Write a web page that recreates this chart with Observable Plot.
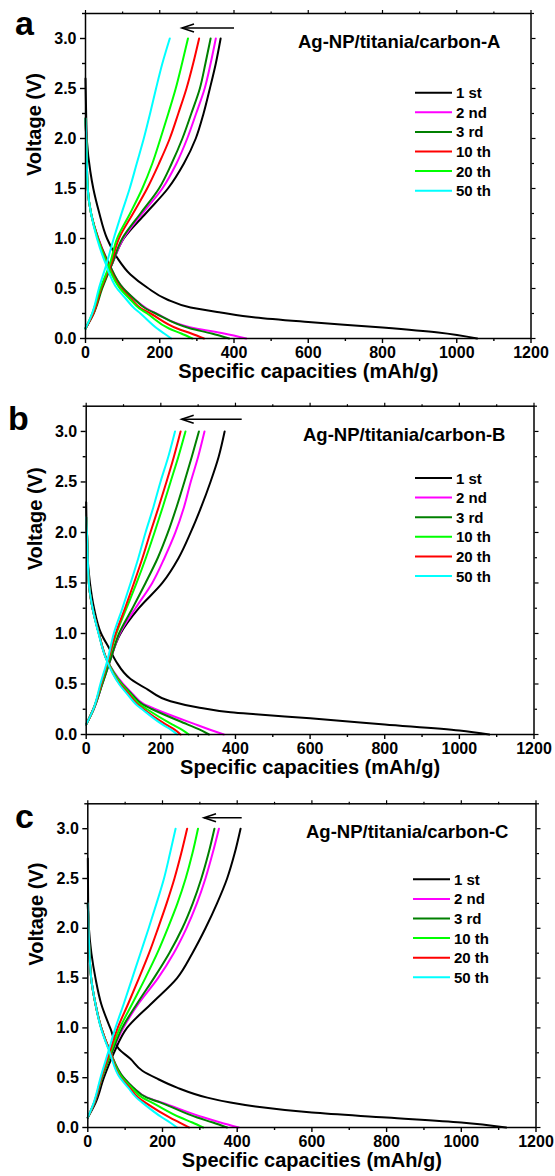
<!DOCTYPE html>
<html><head><meta charset="utf-8">
<script src="https://cdn.jsdelivr.net/npm/d3@7"></script>
<script src="https://cdn.jsdelivr.net/npm/@observablehq/plot@0.6"></script>
<style>
body{margin:0;background:#fff;}
#wrap{position:relative;width:555px;height:1176px;overflow:hidden;background:#fff;}
#wrap svg{position:absolute;left:0;}
</style></head><body><div id="wrap"></div>
<script>
// ---------- categories / labels ----------
const cycles = ["1 st","2 nd","3 rd","10 th","20 th","50 th"];
const colorsA  = ["#000000","#ff00ff","#008000","#ff0000","#00ff00","#00ffff"];
const colorsBC = ["#000000","#ff00ff","#008000","#00ff00","#ff0000","#00ffff"];
const titles = ["Ag-NP/titania/carbon-A","Ag-NP/titania/carbon-B","Ag-NP/titania/carbon-C"];
const letters = ["a","b","c"];
const xTicks = [0,200,400,600,800,1000,1200];
const xMinor = [100,300,500,700,900,1100];
const yTicks = [0,0.5,1.0,1.5,2.0,2.5,3.0];
const yMinor = [0.25,0.75,1.25,1.75,2.25,2.75,3.25];
const xLabel = "Specific capacities (mAh/g)";
const yLabel = "Voltage (V)";

// ---------- panel a : [capacity mAh/g, voltage V] ----------
const A_discharge = [
  [[0,2.6],[2,2.2],[4,1.97],[13,1.67],[21,1.5],[36,1.27],[58,1.0],[85,0.81],[121,0.64],[166,0.51],[220,0.39],[283,0.31],[364,0.26],[458,0.21],[600,0.165],[800,0.11],[950,0.06],[1055,0.0]],
  [[0,2.2],[2,2.0],[6,1.5],[15,1.25],[35,1.0],[63,0.75],[102,0.5],[130,0.4],[165,0.3],[191,0.25],[297,0.1],[373,0.05],[433,0.0]],
  [[0,2.2],[2,2.0],[6,1.5],[15,1.25],[34,1.0],[63,0.75],[102,0.5],[130,0.4],[162,0.3],[189,0.25],[283,0.1],[340,0.05],[387,0.0]],
  [[0,2.2],[2,2.0],[6,1.5],[15,1.25],[34,1.0],[60,0.75],[96,0.5],[122,0.4],[150,0.3],[175,0.25],[247,0.1],[285,0.05],[319,0.0]],
  [[0,2.2],[2,2.0],[6,1.5],[15,1.25],[33,1.0],[58,0.75],[93,0.5],[118,0.4],[145,0.3],[166,0.25],[225,0.1],[258,0.05],[288,0.0]],
  [[0,2.2],[2,2.0],[6,1.5],[15,1.25],[31,1.0],[54,0.75],[85,0.5],[108,0.4],[132,0.3],[148,0.25],[193,0.1],[212,0.05],[231,0.0]]
];
const A_charge = [
  [[0,0.1],[21,0.25],[42,0.5],[72,0.75],[103,1.0],[162,1.25],[222,1.5],[265,1.75],[297,2.0],[318,2.25],[335,2.5],[351,2.75],[364,3.0]],
  [[0,0.1],[21,0.25],[43,0.5],[72,0.75],[102,1.0],[153,1.25],[207,1.5],[245,1.75],[274,2.0],[298,2.25],[321,2.5],[337,2.75],[351,3.0]],
  [[0,0.1],[22,0.25],[45,0.5],[72,0.75],[99,1.0],[148,1.25],[198,1.5],[232,1.75],[261,2.0],[285,2.25],[308,2.5],[323,2.75],[337,3.0]],
  [[0,0.1],[21,0.25],[42,0.5],[69,0.75],[90,1.0],[128,1.25],[166,1.5],[198,1.75],[227,2.0],[250,2.25],[272,2.5],[290,2.75],[306,3.0]],
  [[0,0.1],[18,0.25],[40,0.5],[66,0.75],[85,1.0],[120,1.25],[153,1.5],[180,1.75],[202,2.0],[223,2.25],[243,2.5],[260,2.75],[276,3.0]],
  [[0,0.1],[18,0.25],[36,0.5],[57,0.75],[76,1.0],[97,1.25],[119,1.5],[138,1.75],[157,2.0],[174,2.25],[190,2.5],[207,2.75],[227,3.0]]
];

// ---------- panel b ----------
const B_discharge = [
  [[0,2.3],[3,1.8],[10,1.5],[21,1.25],[40,1.0],[62,0.85],[79,0.73],[119,0.55],[163,0.45],[226,0.33],[297,0.27],[387,0.22],[454,0.2],[600,0.16],[800,0.1],[1000,0.04],[1080,0.0]],
  [[0,2.15],[2,2.0],[7,1.5],[17,1.25],[34,1.0],[54,0.75],[99,0.5],[125,0.4],[155,0.3],[186,0.25],[293,0.1],[330,0.05],[369,0.0]],
  [[0,2.15],[2,2.0],[7,1.5],[17,1.25],[34,1.0],[54,0.75],[96,0.5],[122,0.4],[150,0.3],[177,0.25],[271,0.1],[303,0.05],[329,0.0]],
  [[0,2.15],[2,2.0],[7,1.5],[17,1.25],[34,1.0],[54,0.75],[94,0.5],[118,0.4],[143,0.3],[163,0.25],[230,0.1],[255,0.05],[275,0.0]],
  [[0,2.15],[2,2.0],[7,1.5],[17,1.25],[34,1.0],[54,0.75],[90,0.5],[114,0.4],[137,0.3],[154,0.25],[213,0.1],[236,0.05],[253,0.0]],
  [[0,2.15],[2,2.0],[7,1.5],[17,1.25],[33,1.0],[53,0.75],[88,0.5],[110,0.4],[133,0.3],[150,0.25],[204,0.1],[226,0.05],[244,0.0]]
];
const B_charge = [
  [[0,0.1],[19,0.25],[43,0.5],[65,0.75],[92,1.0],[141,1.25],[204,1.5],[248,1.75],[280,2.0],[308,2.25],[333,2.5],[355,2.75],[371,3.0]],
  [[0,0.1],[20,0.25],[43,0.5],[66,0.75],[90,1.0],[132,1.25],[177,1.5],[210,1.75],[239,2.0],[262,2.25],[280,2.5],[300,2.75],[317,3.0]],
  [[0,0.1],[20,0.25],[43,0.5],[66,0.75],[88,1.0],[124,1.25],[159,1.5],[192,1.75],[219,2.0],[242,2.25],[263,2.5],[283,2.75],[302,3.0]],
  [[0,0.1],[19,0.25],[41,0.5],[61,0.75],[81,1.0],[108,1.25],[135,1.5],[160,1.75],[183,2.0],[205,2.25],[226,2.5],[247,2.75],[266,3.0]],
  [[0,0.1],[19,0.25],[40,0.5],[60,0.75],[79,1.0],[104,1.25],[128,1.5],[151,1.75],[172,2.0],[194,2.25],[215,2.5],[235,2.75],[253,3.0]],
  [[0,0.1],[19,0.25],[38,0.5],[58,0.75],[74,1.0],[97,1.25],[119,1.5],[140,1.75],[159,2.0],[180,2.25],[199,2.5],[220,2.75],[238,3.0]]
];

// ---------- panel c ----------
const C_discharge = [
  [[0,2.7],[1,2.24],[3,2.0],[21,1.49],[36,1.24],[61,0.99],[83,0.79],[114,0.69],[146,0.57],[186,0.49],[239,0.4],[320,0.3],[382,0.25],[449,0.21],[600,0.15],[800,0.1],[1000,0.05],[1120,0.0]],
  [[0,2.25],[2,2.0],[9,1.5],[20,1.25],[36,1.0],[61,0.75],[96,0.5],[122,0.4],[160,0.3],[199,0.25],[311,0.1],[355,0.05],[404,0.0]],
  [[0,2.25],[2,2.0],[9,1.5],[20,1.25],[36,1.0],[61,0.75],[96,0.5],[122,0.4],[158,0.3],[195,0.25],[293,0.1],[335,0.05],[373,0.0]],
  [[0,2.25],[2,2.0],[9,1.5],[20,1.25],[36,1.0],[61,0.75],[92,0.5],[117,0.4],[146,0.3],[172,0.25],[248,0.1],[280,0.05],[309,0.0]],
  [[0,2.25],[2,2.0],[9,1.5],[20,1.25],[36,1.0],[61,0.75],[88,0.5],[112,0.4],[135,0.3],[154,0.25],[220,0.1],[246,0.05],[271,0.0]],
  [[0,2.25],[2,2.0],[9,1.5],[20,1.25],[35,1.0],[59,0.75],[86,0.5],[108,0.4],[130,0.3],[146,0.25],[199,0.1],[220,0.05],[239,0.0]]
];
const C_charge = [
  [[0,0.1],[21,0.25],[43,0.5],[70,0.75],[105,1.0],[172,1.25],[239,1.5],[280,1.75],[315,2.0],[346,2.25],[373,2.5],[393,2.75],[409,3.0]],
  [[0,0.1],[18,0.25],[38,0.5],[64,0.75],[95,1.0],[137,1.25],[188,1.5],[230,1.75],[264,2.0],[292,2.25],[315,2.5],[334,2.75],[351,3.0]],
  [[0,0.1],[18,0.25],[38,0.5],[64,0.75],[92,1.0],[133,1.25],[177,1.5],[218,1.75],[253,2.0],[281,2.25],[304,2.5],[323,2.75],[339,3.0]],
  [[0,0.1],[17,0.25],[37,0.5],[61,0.75],[86,1.0],[120,1.25],[154,1.5],[186,1.75],[214,2.0],[240,2.25],[262,2.5],[280,2.75],[295,3.0]],
  [[0,0.1],[17,0.25],[36,0.5],[58,0.75],[80,1.0],[109,1.25],[137,1.5],[164,1.75],[188,2.0],[211,2.25],[232,2.5],[250,2.75],[266,3.0]],
  [[0,0.1],[16,0.25],[34,0.5],[54,0.75],[74,1.0],[97,1.25],[119,1.5],[141,1.75],[163,2.0],[184,2.25],[204,2.5],[220,2.75],[235,3.0]]
];

// ---------- layout (pixels, not data) ----------
const layouts = [
  {top:0,   h:392, mt:13,   mb:54, ml:85,   mr:24.5, letter:[15,35],  title:[298,48],  legend:{y:92.7,  x1:415, x2:452, tx:456}, arrow:{y:28,    x1:234,   x2:182}},
  {top:392, h:392, mt:13.7, mb:50, ml:85.7, mr:21.5, letter:[8,430],  title:[303,441], legend:{y:478,   x1:415, x2:452, tx:456}, arrow:{y:419.3, x1:241.7, x2:181.7}},
  {top:784, h:392, mt:19.3, mb:49, ml:87.3, mr:19.5, letter:[15,828], title:[306,838], legend:{y:879.3, x1:413, x2:450, tx:454}, arrow:{y:817.7, x1:241.7, x2:204}}
];
const panels = [
  {dis:A_discharge, chg:A_charge, colors:colorsA},
  {dis:B_discharge, chg:B_charge, colors:colorsBC},
  {dis:C_discharge, chg:C_charge, colors:colorsBC}
];

function rowsOf(dis, chg){
  const rows = [];
  cycles.forEach((c,i)=>{
    [["d",dis[i]],["c",chg[i]]].forEach(([k,pts])=>{
      pts.slice().sort((a,b)=>a[1]-b[1]).forEach(([cap,v])=>rows.push({cycle:c, key:c+k, cap, v}));
    });
  });
  return rows;
}

const FONT = "'Liberation Sans', Arial, sans-serif";
const wrap = document.getElementById("wrap");

panels.forEach((p, idx)=>{
  const L = layouts[idx];
  const chart = Plot.plot({
    width:555, height:L.h,
    marginTop:L.mt, marginBottom:L.mb, marginLeft:L.ml, marginRight:L.mr,
    style:{fontFamily:FONT, fontWeight:"bold", fontSize:"16px", color:"#000", background:"transparent", overflow:"visible"},
    x:{domain:[0,1200]},
    y:{domain:[0,3.25]},
    color:{domain:cycles, range:p.colors},
    marks:[
      Plot.line(rowsOf(p.dis,p.chg), {x:"cap", y:"v", z:"key", stroke:"cycle", strokeWidth:2, curve:"monotone-y"}),
      Plot.axisX({ticks:xTicks, tickSize:5, tickPadding:3, tickFormat:d3.format("d"), label:null, strokeWidth:1.4, fontSize:16, fontWeight:"bold"}),
      Plot.axisX({ticks:xMinor, tickSize:3, text:null, label:null, strokeWidth:1.4}),
      Plot.axisX({anchor:"top", ticks:xTicks, tickSize:4, text:null, label:null, strokeWidth:1.2}),
      Plot.axisX({anchor:"top", ticks:xMinor, tickSize:2.5, text:null, label:null, strokeWidth:1.2}),
      Plot.axisY({ticks:yTicks, tickSize:5, tickPadding:4, tickFormat:d3.format(".1f"), label:null, strokeWidth:1.4, fontSize:16, fontWeight:"bold"}),
      Plot.axisY({ticks:yMinor, tickSize:3, text:null, label:null, strokeWidth:1.4}),
      Plot.axisY({anchor:"right", ticks:yTicks, tickSize:4, text:null, label:null, strokeWidth:1.2}),
      Plot.axisY({anchor:"right", ticks:yMinor, tickSize:2.5, text:null, label:null, strokeWidth:1.2}),
      Plot.frame({stroke:"#000", strokeWidth:1.5}),
      Plot.text([xLabel], {text:d=>d, frameAnchor:"bottom", dy:39, fontSize:20, fontWeight:"bold"}),
      Plot.text([yLabel], {text:d=>d, frameAnchor:"left", dx:-51, rotate:-90, fontSize:20, fontWeight:"bold"})
    ]
  });
  chart.style.top = L.top + "px";
  wrap.appendChild(chart);
});

// ---------- annotation overlay: letters, titles, legends, arrows ----------
const ns = "http://www.w3.org/2000/svg";
const ov = document.createElementNS(ns,"svg");
ov.setAttribute("width",555); ov.setAttribute("height",1176);
ov.style.top = "0px"; ov.style.pointerEvents = "none";
ov.setAttribute("font-family", FONT); ov.setAttribute("font-weight","bold");
function el(tag, attrs, text){
  const e = document.createElementNS(ns, tag);
  for (const k in attrs) e.setAttribute(k, attrs[k]);
  if (text != null) e.textContent = text;
  ov.appendChild(e); return e;
}
layouts.forEach((L, idx)=>{
  el("text", {x:L.letter[0], y:L.letter[1], "font-size":34}, letters[idx]);
  el("text", {x:L.title[0], y:L.title[1], "font-size":18.5}, titles[idx]);
  const cols = panels[idx].colors;
  cycles.forEach((c,i)=>{
    const y = L.legend.y + i*19.6;
    el("line", {x1:L.legend.x1, x2:L.legend.x2, y1:y, y2:y, stroke:cols[i], "stroke-width":2});
    el("text", {x:L.legend.tx, y:y+5.5, "font-size":15}, c);
  });
  const a = L.arrow;
  el("line", {x1:a.x1, x2:a.x2, y1:a.y, y2:a.y, stroke:"#000", "stroke-width":1.6});
  el("path", {d:`M${a.x2+12},${a.y-4} L${a.x2},${a.y} L${a.x2+12},${a.y+4}`, fill:"none", stroke:"#000", "stroke-width":1.6});
});
wrap.appendChild(ov);
</script></body></html>
